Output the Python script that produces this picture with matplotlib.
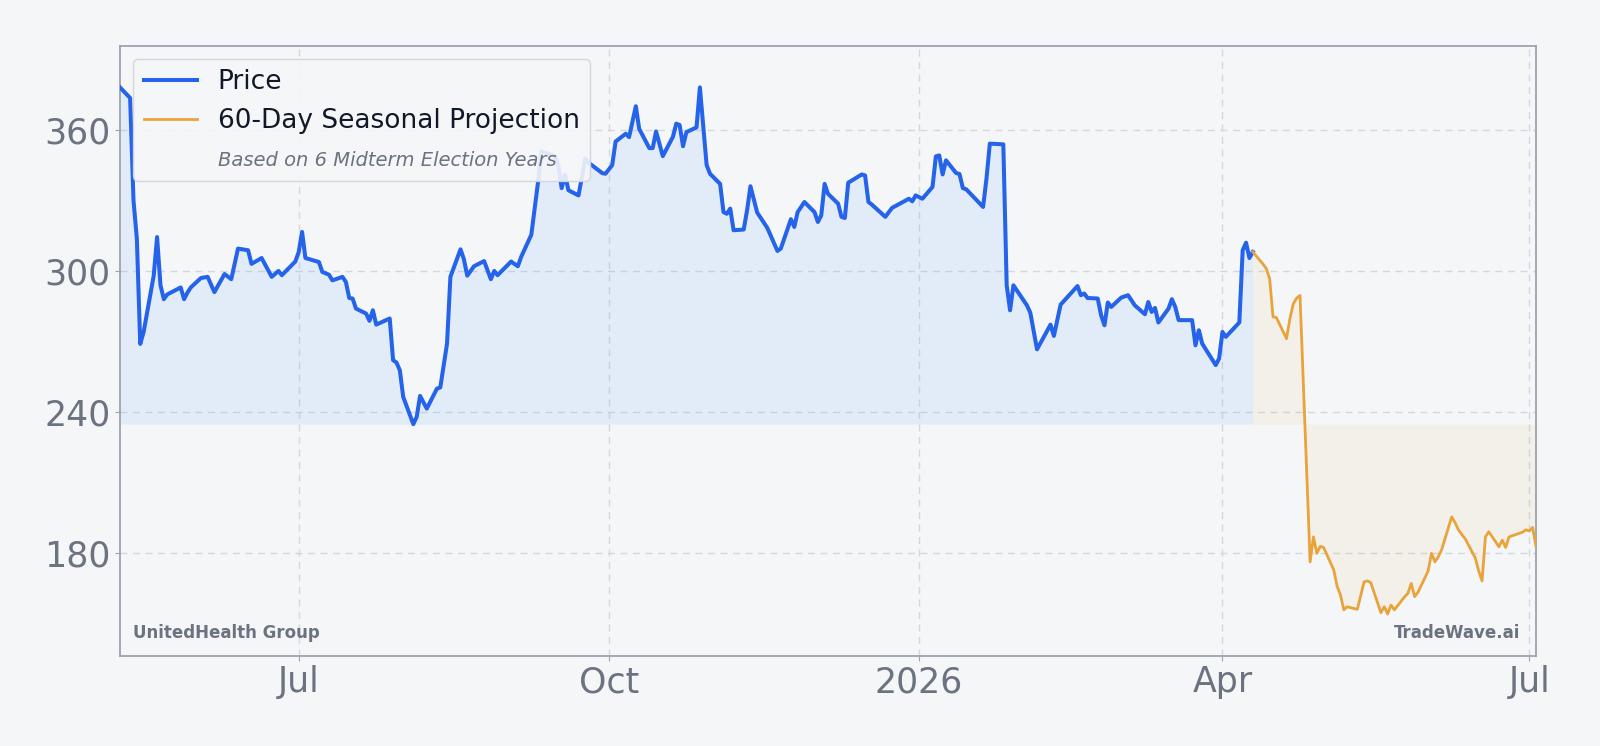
import pandas as pd
import matplotlib
matplotlib.use("Agg")
import matplotlib.pyplot as plt
import matplotlib.dates as mdates
from matplotlib.lines import Line2D
from matplotlib.ticker import FuncFormatter


BG = "#f4f6f8"
BLUE = "#2563eb"
FILL_BLUE = "#60a5fa"
ORANGE = "#e8a33a"
GRAY = "#6b7280"

price_dates = [
    "2025-05-09", "2025-05-12", "2025-05-13", "2025-05-14", "2025-05-15", "2025-05-16",
    "2025-05-19", "2025-05-20", "2025-05-21", "2025-05-22", "2025-05-23", "2025-05-27",
    "2025-05-28", "2025-05-29", "2025-05-30", "2025-06-02", "2025-06-04", "2025-06-06",
    "2025-06-09", "2025-06-11", "2025-06-13", "2025-06-16", "2025-06-17", "2025-06-20",
    "2025-06-23", "2025-06-25", "2025-06-26", "2025-06-30", "2025-07-01", "2025-07-02",
    "2025-07-03", "2025-07-07", "2025-07-08", "2025-07-10", "2025-07-11", "2025-07-14",
    "2025-07-15", "2025-07-16", "2025-07-17", "2025-07-18", "2025-07-21", "2025-07-22",
    "2025-07-23", "2025-07-24", "2025-07-28", "2025-07-29", "2025-07-30", "2025-07-31",
    "2025-08-01", "2025-08-04", "2025-08-05", "2025-08-06", "2025-08-08", "2025-08-11",
    "2025-08-12", "2025-08-14", "2025-08-15", "2025-08-18", "2025-08-19", "2025-08-20",
    "2025-08-22", "2025-08-25", "2025-08-27", "2025-08-28", "2025-08-29", "2025-09-02",
    "2025-09-04", "2025-09-05", "2025-09-08", "2025-09-10", "2025-09-11", "2025-09-15",
    "2025-09-16", "2025-09-17", "2025-09-18", "2025-09-19", "2025-09-22", "2025-09-24",
    "2025-09-25", "2025-09-29", "2025-09-30", "2025-10-02", "2025-10-03", "2025-10-06",
    "2025-10-07", "2025-10-09", "2025-10-10", "2025-10-13", "2025-10-14", "2025-10-15",
    "2025-10-17", "2025-10-20", "2025-10-21", "2025-10-22", "2025-10-23", "2025-10-24",
    "2025-10-27", "2025-10-28", "2025-10-30", "2025-10-31", "2025-11-03", "2025-11-04",
    "2025-11-05", "2025-11-06", "2025-11-07", "2025-11-10", "2025-11-11", "2025-11-12",
    "2025-11-14", "2025-11-17", "2025-11-20", "2025-11-21", "2025-11-24", "2025-11-25",
    "2025-11-26", "2025-11-28", "2025-12-01", "2025-12-02", "2025-12-03", "2025-12-04",
    "2025-12-05", "2025-12-08", "2025-12-09", "2025-12-10", "2025-12-11", "2025-12-15",
    "2025-12-16", "2025-12-17", "2025-12-18", "2025-12-22", "2025-12-24", "2025-12-29",
    "2025-12-30", "2025-12-31", "2026-01-02", "2026-01-05", "2026-01-06", "2026-01-07",
    "2026-01-08", "2026-01-09", "2026-01-12", "2026-01-13", "2026-01-14", "2026-01-15",
    "2026-01-20", "2026-01-21", "2026-01-22", "2026-01-26", "2026-01-27", "2026-01-28",
    "2026-01-29", "2026-02-02", "2026-02-03", "2026-02-05", "2026-02-09", "2026-02-10",
    "2026-02-12", "2026-02-17", "2026-02-18", "2026-02-19", "2026-02-20", "2026-02-23",
    "2026-02-24", "2026-02-25", "2026-02-26", "2026-02-27", "2026-03-02", "2026-03-04",
    "2026-03-06", "2026-03-09", "2026-03-10", "2026-03-11", "2026-03-12", "2026-03-13",
    "2026-03-16", "2026-03-17", "2026-03-18", "2026-03-19", "2026-03-23", "2026-03-24",
    "2026-03-25", "2026-03-26", "2026-03-30", "2026-03-31", "2026-04-01", "2026-04-02",
    "2026-04-06", "2026-04-07", "2026-04-08", "2026-04-09", "2026-04-10",
]

price_values = [
    378.0, 373.5, 330.0, 313.7, 269.0, 274.0,
    298.0, 314.4, 294.0, 288.0, 290.0, 293.0,
    288.0, 290.8, 293.0, 297.0, 297.5, 291.0,
    298.7, 296.5, 309.5, 308.8, 303.0, 305.5,
    297.5, 300.0, 298.2, 304.0, 308.0, 316.6,
    305.5, 303.8, 299.6, 298.4, 296.0, 297.5,
    295.3, 288.5, 288.3, 284.0, 281.9, 278.8,
    283.3, 277.2, 279.8, 262.1, 261.1, 257.8,
    246.5, 234.9, 238.0, 246.9, 241.5, 250.0,
    250.5, 269.1, 297.5, 309.2, 305.0, 298.0,
    302.0, 304.2, 296.5, 300.0, 298.2, 304.0,
    302.0, 306.0, 315.4, 337.8, 350.8, 348.8,
    345.0, 335.2, 341.0, 334.3, 332.1, 347.7,
    346.0, 341.6, 341.3, 345.0, 355.0, 358.3,
    356.9, 370.0, 360.4, 352.2, 352.2, 359.3,
    348.8, 357.0, 362.6, 362.0, 353.0, 359.0,
    361.0, 378.0, 345.0, 341.3, 337.0, 325.0,
    324.3, 326.5, 317.3, 317.6, 325.8, 336.0,
    324.8, 318.3, 308.5, 309.5, 322.0, 318.7,
    325.0, 329.3, 325.0, 320.8, 323.6, 337.0,
    332.8, 328.6, 323.0, 322.5, 337.5, 341.0,
    340.6, 329.3, 328.2, 323.0, 326.8, 330.7,
    329.6, 332.1, 330.7, 335.7, 348.7, 349.1,
    341.0, 347.0, 341.6, 341.2, 335.2, 334.7,
    327.2, 339.2, 354.1, 353.8, 293.9, 283.3,
    293.9, 285.4, 282.3, 266.7, 277.2, 272.4,
    285.7, 293.6, 289.7, 290.4, 288.5, 288.3,
    281.2, 276.9, 286.6, 284.7, 288.7, 289.7,
    285.4, 281.6, 286.8, 282.6, 284.3, 278.1,
    284.0, 288.0, 284.7, 279.1, 279.1, 268.4,
    274.8, 269.1, 260.0, 262.8, 274.1, 272.0,
    278.1, 308.8, 312.0, 305.5, 308.1,
]

# 60 trading days after the last close (first value repeats the last close)
projection_start = "2026-04-10"
projection_values = [
    308.1, 303.0, 301.0, 296.7, 280.5, 280.2, 271.2, 279.7, 286.0, 288.5,
    289.6, 176.4, 187.0, 180.0, 183.0, 182.5, 173.0, 166.0, 162.3, 156.0,
    157.3, 156.2, 162.0, 167.9, 168.3, 167.5, 154.8, 157.3, 154.2, 158.0,
    156.0, 161.5, 163.0, 167.2, 161.6, 163.5, 172.5, 180.0, 176.4, 178.5,
    181.5, 195.5, 193.0, 190.0, 188.0, 186.2, 178.0, 172.5, 168.3, 187.0,
    189.2, 182.8, 185.6, 182.5, 187.0, 187.5, 189.0, 190.0, 189.5, 191.0,
    183.0,
]

y_ticks = [180, 240, 300, 360]
company = "UnitedHealth Group"
brand = "TradeWave.ai"


def month_label(x, pos):
    d = mdates.num2date(x)
    if d.month == 1:
        return str(d.year)
    return d.strftime("%b")


def main():
    p_dates = pd.to_datetime(price_dates)
    p_vals = pd.Series(price_values, index=p_dates)
    proj_dates = pd.bdate_range(projection_start, periods=len(projection_values))
    proj_vals = pd.Series(projection_values, index=proj_dates)

    base = p_vals.min()

    fig = plt.figure(figsize=(16, 7.46), dpi=100, facecolor=BG)
    ax = fig.add_axes([0.075, 0.121, 0.885, 0.818])
    ax.set_facecolor(BG)

    ax.fill_between(p_vals.index, p_vals.values, base, color=FILL_BLUE, alpha=0.12, linewidth=0, zorder=1)
    ax.fill_between(proj_vals.index, proj_vals.values, base, color=ORANGE, alpha=0.08, linewidth=0, zorder=1)
    ax.plot(p_vals.index, p_vals.values, color=BLUE, linewidth=2.9, label="Price", zorder=3)
    ax.plot(proj_vals.index, proj_vals.values, color=ORANGE, linewidth=2.0,
            label="60-Day Seasonal Projection", zorder=3)

    ax.set_xlim(p_dates[0], proj_dates[-1])
    ax.set_ylim(136.5, 395.8)
    ax.set_yticks(y_ticks)

    ax.xaxis.set_major_locator(mdates.MonthLocator(bymonth=[1, 4, 7, 10]))
    ax.xaxis.set_major_formatter(FuncFormatter(month_label))

    ax.grid(True, linestyle=(0, (5, 4)), color="#d4d8de", linewidth=1.0, zorder=0)
    ax.set_axisbelow(True)

    ax.tick_params(axis="both", labelsize=25, labelcolor=GRAY, color="#9ca3af")
    for spine in ax.spines.values():
        spine.set_color("#9ca3af")
        spine.set_linewidth(1.3)

    handles = [
        Line2D([], [], color=BLUE, linewidth=2.9),
        Line2D([], [], color=ORANGE, linewidth=2.0),
        Line2D([], [], color="none"),
    ]
    labels = ["Price", "60-Day Seasonal Projection", "Based on 6 Midterm Election Years"]
    leg = ax.legend(handles, labels, loc="upper left", fontsize=19, frameon=True,
                    facecolor=BG, edgecolor="#d1d5db", framealpha=0.9)
    for t in leg.get_texts()[:2]:
        t.set_color("#111827")
    sub = leg.get_texts()[2]
    sub.set_fontstyle("italic")
    sub.set_fontsize(14)
    sub.set_color(GRAY)

    ax.text(0.0095, 0.022, company, transform=ax.transAxes, fontsize=12,
            fontweight="bold", color=GRAY, ha="left", va="bottom")
    ax.text(0.989, 0.022, brand, transform=ax.transAxes, fontsize=12,
            fontweight="bold", color=GRAY, ha="right", va="bottom")

    fig.savefig("out.png", dpi=100, facecolor=BG)
    plt.close(fig)


if __name__ == "__main__":
    main()
